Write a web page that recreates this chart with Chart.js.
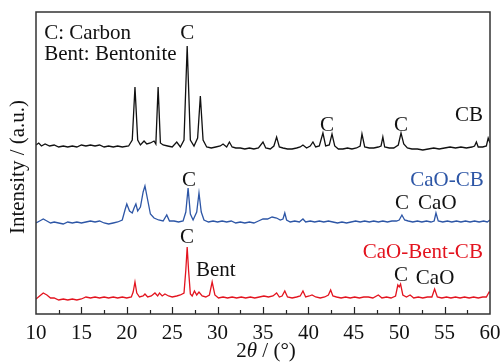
<!DOCTYPE html>
<html>
<head>
<meta charset="utf-8">
<script src="https://cdn.jsdelivr.net/npm/chart.js@4/dist/chart.umd.min.js"></script>
<style>
  html, body { margin: 0; padding: 0; background: #fff; }
  #wrap { width: 501px; height: 362px; position: relative; }
</style>
</head>
<body>
<div id="wrap"><canvas id="xrd"></canvas></div>
<script>
// 2theta (deg) and stacked intensity (a.u.) for each pattern
const cbAngle = [10.0,10.3,10.6,11.0,11.5,12.0,12.5,13.0,13.5,14.0,14.5,15.0,15.5,16.0,16.5,17.0,17.5,18.0,18.5,19.0,19.5,20.2,20.6,20.9,21.2,21.5,21.9,22.2,22.6,23.0,23.2,23.45,23.7,24.0,24.5,25.0,25.5,25.9,26.3,26.65,27.0,27.4,27.8,28.1,28.4,28.8,29.3,29.8,30.3,30.6,31.0,31.3,31.6,32.0,32.5,33.0,33.5,34.0,34.5,35.0,35.3,35.8,36.2,36.5,36.8,37.2,37.7,38.2,38.7,39.1,39.4,39.8,40.2,40.5,40.8,41.2,41.6,41.9,42.3,42.6,42.9,43.3,43.8,44.3,44.8,45.3,45.7,45.9,46.2,46.7,47.2,47.7,48.0,48.2,48.4,48.9,49.4,49.9,50.2,50.5,50.9,51.4,52.0,52.6,53.2,53.8,54.4,55.0,55.6,56.2,56.8,57.4,58.0,58.3,58.5,58.7,59.2,59.6,59.8,60.0];
const cbInt = [169,171,168,170,168,169,167,168,167,168,167,169,168,169,168,169,167,168,167,168,167,168,174,227,174,169,173,170,171,173,170,227,171,169,168,167,172,167,174,268,174,168,176,218,174,167,166,167,168,170,167,172,167,166,166,165,166,165,166,172,166,165,168,177,167,166,165,165,166,167,169,166,168,172,167,168,181,168,169,180,168,165,165,166,165,166,168,180,167,166,166,167,168,177,167,166,166,169,181,170,166,165,165,164,165,166,165,166,167,166,167,166,167,168,172,167,167,168,176,171];

const caoAngle = [10.0,10.4,10.8,11.2,11.6,12.0,12.5,13.0,13.5,14.0,14.5,15.0,15.5,16.0,16.5,17.0,17.5,18.0,18.5,19.0,19.5,19.8,20.0,20.3,20.6,20.8,21.0,21.2,21.5,21.8,22.0,22.3,22.6,23.0,23.5,24.0,24.4,24.7,25.2,25.7,26.2,26.5,26.75,27.0,27.3,27.7,27.95,28.2,28.5,29.0,29.5,30.0,30.5,31.0,31.5,32.0,32.5,33.0,33.5,34.0,34.5,35.0,35.5,36.0,36.5,36.9,37.2,37.4,37.6,38.0,38.5,39.0,39.4,39.7,40.2,40.7,41.2,41.7,42.2,42.7,43.2,43.7,44.2,44.7,45.2,45.7,46.2,46.7,47.2,47.7,48.2,48.7,49.2,49.7,50.0,50.3,50.6,51.0,51.5,52.0,52.5,53.0,53.5,53.85,54.05,54.3,54.8,55.3,55.8,56.3,56.8,57.3,57.8,58.3,58.8,59.3,59.7,60.0];
const caoInt = [91,93,95,93,91,92,91,90,92,91,92,91,92,93,92,93,91,90,91,92,94,104,110,103,101,106,110,103,107,122,128,114,100,96,94,93,99,93,93,92,93,102,126,100,94,102,121,102,94,92,93,92,93,92,93,91,92,91,92,91,93,95,95,97,96,94,95,101,94,92,93,92,95,92,93,92,93,92,93,92,91,92,91,92,93,92,93,92,93,92,93,92,93,93,94,99,94,93,92,93,92,93,92,93,101,93,92,93,92,93,92,93,92,93,92,93,92,94];

const bentAngle = [10.0,10.4,10.8,11.2,11.6,12.0,12.5,13.0,13.5,14.0,14.5,15.0,15.5,16.0,16.5,17.0,17.5,18.0,18.5,19.0,19.5,20.0,20.5,20.7,20.9,21.1,21.4,21.8,22.0,22.3,22.7,23.1,23.4,23.6,23.9,24.2,24.6,25.0,25.5,25.9,26.3,26.5,26.65,26.8,27.0,27.2,27.45,27.7,27.95,28.3,28.7,29.1,29.4,29.7,30.1,30.6,31.1,31.6,32.1,32.6,33.1,33.6,34.1,34.6,35.1,35.6,36.1,36.5,36.8,37.1,37.4,37.7,38.2,38.7,39.1,39.4,39.7,40.1,40.4,40.8,41.3,41.8,42.2,42.45,42.7,43.1,43.6,44.1,44.6,45.1,45.6,46.1,46.6,47.1,47.7,48.1,48.6,49.1,49.6,49.85,50.0,50.15,50.4,50.8,51.2,51.6,52.1,52.6,53.1,53.6,53.9,54.2,54.7,55.2,55.7,56.2,56.7,57.2,57.7,58.2,58.7,59.2,59.6,59.9,60.0];
const bentInt = [15,18,21,19,16,16,14,15,14,15,14,15,17,16,17,16,17,16,17,16,17,16,17,22,32,21,17,18,20,17,18,21,18,21,18,20,18,17,18,19,21,44,67,44,20,18,23,19,22,18,17,19,32,19,16,17,16,17,16,17,16,17,16,17,18,17,18,21,17,18,23,17,16,17,18,23,17,18,19,17,16,17,19,24,18,17,16,17,16,17,16,17,17,16,19,16,17,16,18,29,27,30,19,17,19,16,17,16,17,17,25,17,16,17,16,17,16,17,16,17,16,17,17,22,21];

const seriesNames = ["CB", "CaO-CB", "CaO-Bent-CB"];
const seriesColors = ["#111111", "#2d56a6", "#e3141f"];
const xTicks = [10, 15, 20, 25, 30, 35, 40, 45, 50, 55, 60];

// text notes: [text, 2theta, intensity, colour, align]
const notes = [
  ["C: Carbon", 10.9, 281, "#111", "left"],
  ["Bent: Bentonite", 10.9, 260, "#111", "left"],
  ["C", 26.65, 281, "#111", "center"],
  ["C", 42.05, 189, "#111", "center"],
  ["C", 50.2, 189, "#111", "center"],
  ["CB", 57.7, 199, "#111", "center"],
  ["CaO-CB", 55.26, 134, "#2d56a6", "center"],
  ["C", 26.85, 134, "#111", "center"],
  ["C", 50.3, 111, "#111", "center"],
  ["CaO", 54.2, 111, "#111", "center"],
  ["C", 26.63, 77, "#111", "center"],
  ["Bent", 29.8, 44, "#111", "center"],
  ["CaO-Bent-CB", 52.6, 62, "#e3141f", "center"],
  ["C", 50.2, 39, "#111", "center"],
  ["CaO", 53.95, 36, "#111", "center"]
];

const serif = '"Liberation Serif", "Times New Roman", serif';

function pairs(xs, ys){
  return xs.map((x, i) => ({x: x, y: ys[i]}));
}

const frameAndNotes = {
  id: 'frameAndNotes',
  afterDraw(chart){
    const ctx = chart.ctx;
    const a = chart.chartArea;
    const xs = chart.scales.x, ys = chart.scales.y;
    ctx.save();
    // inward ticks on the bottom axis
    ctx.strokeStyle = '#222';
    ctx.lineWidth = 1.2;
    for(let v = 12.5; v < 60; v += 2.5){
      const px = Math.round(xs.getPixelForValue(v)) + 0.5;
      const len = (v % 5 === 0) ? 7 : 4;
      ctx.beginPath();
      ctx.moveTo(px, a.bottom);
      ctx.lineTo(px, a.bottom - len);
      ctx.stroke();
    }
    // frame
    ctx.strokeStyle = '#333';
    ctx.lineWidth = 1.5;
    ctx.strokeRect(a.left, a.top, a.right - a.left, a.bottom - a.top);
    // notes
    ctx.font = '21px ' + serif;
    ctx.textBaseline = 'middle';
    notes.forEach(n => {
      ctx.fillStyle = n[3];
      ctx.textAlign = n[4];
      ctx.fillText(n[0], xs.getPixelForValue(n[1]), ys.getPixelForValue(n[2]));
    });
    // y title
    ctx.save();
    ctx.translate(18, 167);
    ctx.rotate(-Math.PI / 2);
    ctx.font = '21px ' + serif;
    ctx.fillStyle = '#111';
    ctx.textAlign = 'center';
    ctx.fillText('Intensity / (a.u.)', 0, 0);
    ctx.restore();
    // x title with italic theta
    const parts = [["2", ""], ["\u03b8", "italic "], [" / (\u00b0)", ""]];
    let total = 0;
    parts.forEach(p => { ctx.font = p[1] + '21px ' + serif; total += ctx.measureText(p[0]).width; });
    let x = 266 - total / 2;
    ctx.fillStyle = '#111';
    ctx.textAlign = 'left';
    parts.forEach(p => {
      ctx.font = p[1] + '21px ' + serif;
      ctx.fillText(p[0], x, 351);
      x += ctx.measureText(p[0]).width;
    });
    ctx.restore();
  }
};

function draw(){
  new Chart(document.getElementById('xrd'), {
    type: 'line',
    data: {
      datasets: [
        {label: seriesNames[0], data: pairs(cbAngle, cbInt), borderColor: seriesColors[0]},
        {label: seriesNames[1], data: pairs(caoAngle, caoInt), borderColor: seriesColors[1]},
        {label: seriesNames[2], data: pairs(bentAngle, bentInt), borderColor: seriesColors[2]}
      ].map(d => Object.assign(d, {borderWidth: 1.3, pointRadius: 0, tension: 0, fill: false}))
    },
    options: {
      responsive: true,
      maintainAspectRatio: false,
      animation: false,
      layout: {padding: {top: 12, right: 11, left: 0, bottom: 0}},
      plugins: {legend: {display: false}, tooltip: {enabled: false}},
      scales: {
        x: {
          type: 'linear', min: 10, max: 60,
          afterBuildTicks: s => { s.ticks = xTicks.map(v => ({value: v})); },
          afterFit: s => { s.height = 48; s.paddingLeft = 0; s.paddingRight = 0; },
          grid: {display: false, drawTicks: false},
          border: {display: false},
          ticks: {padding: 7, color: '#111', maxRotation: 0, autoSkip: false,
                  font: {family: serif, size: 21}}
        },
        y: {
          min: 0, max: 302,
          afterFit: s => { s.width = 36; s.paddingTop = 0; s.paddingBottom = 0; },
          grid: {display: false, drawTicks: false},
          border: {display: false},
          ticks: {display: false},
          title: {display: false}
        }
      }
    },
    plugins: [frameAndNotes]
  });
}

const wanted = ['21px "Liberation Serif"', 'italic 21px "Liberation Serif"'];
Promise.all(wanted.map(f => document.fonts.load(f))).then(draw, draw);
</script>
</body>
</html>
